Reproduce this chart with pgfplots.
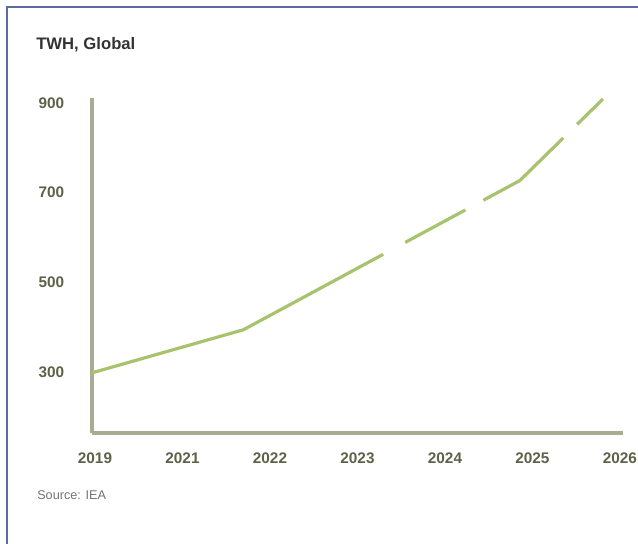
\documentclass[border=0pt]{standalone}
\usepackage{pgfplots}
\pgfplotsset{compat=1.18}
\usepackage{fontspec}
\setmainfont{Liberation Sans}
\definecolor{lineg}{HTML}{A8C36E}
\definecolor{axg}{HTML}{A8AC90}
\definecolor{lab}{HTML}{5E6148}
\definecolor{framec}{HTML}{5C6AA8}
\begin{document}
\begin{tikzpicture}
\useasboundingbox (0,0) rectangle (478.5pt,407.25pt);
\draw[framec, line width=0.9pt] (5.25pt,-1pt) -- (5.25pt,402pt) -- (480pt,402pt);
\node[anchor=west, inner sep=0, font=\bfseries\fontsize{12.5}{14}\selectfont, text=black!80] at (27pt,373.5pt) {TWH, Global};
\node[anchor=west, inner sep=0, font=\fontsize{9.5}{11}\selectfont, text=black!55] at (27.75pt,36pt) {Source: IEA};
\begin{axis}[
  at={(69pt,82.5pt)}, anchor=south west, scale only axis,
  width=398.25pt, height=251.25pt,
  xmin=0, xmax=6.069, ymin=163.7, ymax=911.2,
  axis lines=left,
  axis line style={-, axg, line width=2.4pt},
  xtick={0,...,6},
  xticklabels={2019,2021,2022,2023,2024,2025,2026},
  ytick={300,500,700,900},
  major tick length=0pt,
  tick style={draw=none},
  /pgf/number format/assume math mode=true,
  xticklabel style={anchor=center, yshift=-18.75pt, xshift=2.25pt, font=\bfseries\fontsize{11.5}{13}\selectfont, text=lab},
  yticklabel style={anchor=center, xshift=-30.5pt, font=\bfseries\fontsize{11.5}{13}\selectfont, text=lab},
  clip=false,
]
\addplot[lineg, line width=2.4pt, line join=round,
  dash pattern=on 237.2pt off 18.8pt on 51.2pt off 15.4pt on 76.7pt off 14.6pt on 30pt off 10pt]
  coordinates {(0,298) (1.73,394) (4.89,727) (5.84,909)};
\end{axis}
\end{tikzpicture}
\end{document}
